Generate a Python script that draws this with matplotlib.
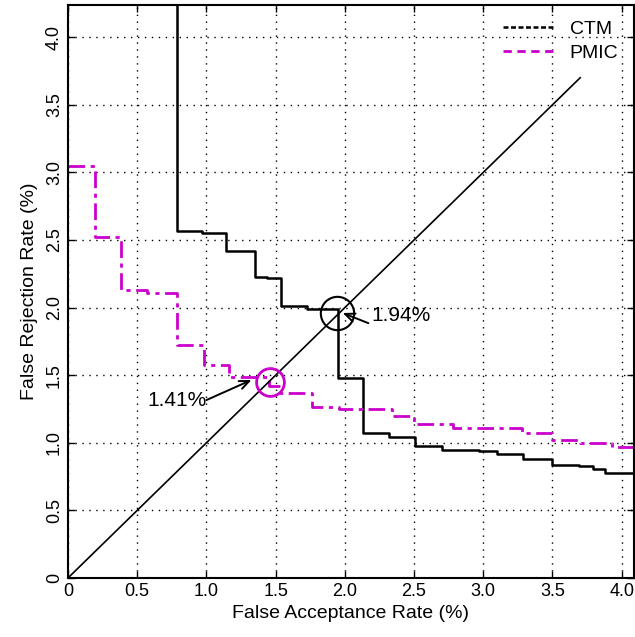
import numpy as np
import matplotlib
matplotlib.use("Agg")
import matplotlib.pyplot as plt
from matplotlib.lines import Line2D

plt.rcParams['font.family'] = ['Liberation Sans', 'DejaVu Sans']

# step curves (x = FAR %, y = FRR %)
ctm_x = [0.785, 0.785, 0.97, 1.14, 1.35, 1.44, 1.54, 1.73, 1.95, 1.95, 2.13, 2.32, 2.51, 2.70, 2.97, 3.10, 3.29, 3.50, 3.69, 3.79, 3.88, 4.10]
ctm_y = [4.30, 2.565, 2.55, 2.42, 2.23, 2.22, 2.01, 1.99, 1.97, 1.48, 1.075, 1.045, 0.98, 0.95, 0.94, 0.917, 0.878, 0.836, 0.826, 0.81, 0.78, 0.78]

pmic_x = [0.0, 0.195, 0.38, 0.57, 0.785, 0.98, 1.16, 1.45, 1.53, 1.76, 1.96, 2.34, 2.50, 2.78, 3.28, 3.50, 3.70, 3.93, 4.10]
pmic_y = [3.05, 2.52, 2.13, 2.11, 1.72, 1.575, 1.49, 1.42, 1.366, 1.267, 1.25, 1.198, 1.137, 1.107, 1.07, 1.02, 0.996, 0.97, 0.97]

diag_end = 3.7
eer_ctm = (1.94, 1.96)
eer_pmic = (1.46, 1.45)
ticks = [0, 0.5, 1.0, 1.5, 2.0, 2.5, 3.0, 3.5, 4.0]
tick_labels = ['0', '0.5', '1.0', '1.5', '2.0', '2.5', '3.0', '3.5', '4.0']

magenta = '#cc00cc'

fig = plt.figure(figsize=(6.35, 6.37), dpi=100)
ax = fig.add_axes([0.107, 0.0926, 0.891, 0.8995])

ax.step(ctm_x, ctm_y, where='post', color='black', lw=1.8)
ax.step(pmic_x, pmic_y, where='post', color=magenta, lw=2.0, linestyle=(0, (6, 2, 1.5, 2)))
ax.plot([0, diag_end], [0, diag_end], color='black', lw=1.2)

ax.plot(*eer_ctm, marker='o', ms=24, mfc='none', mec='black', mew=1.5)
ax.plot(*eer_pmic, marker='o', ms=20, mfc='none', mec=magenta, mew=2)

arrow = dict(arrowstyle='->, head_length=0.7, head_width=0.3', color='black', lw=1.4,
             shrinkA=0, shrinkB=0)
ax.annotate('', xy=(1.985, 1.96), xytext=(2.17, 1.885), arrowprops=arrow)
ax.annotate('', xy=(1.326, 1.465), xytext=(1.0, 1.316), arrowprops=arrow)
ax.text(2.19, 1.945, '1.94%', fontsize=15, va='center', ha='left')
ax.text(1.0, 1.315, '1.41%', fontsize=15, va='center', ha='right')

ax.set_xlim(0, 4.087)
ax.set_ylim(0, 4.238)
ax.set_xticks(ticks)
ax.set_xticklabels(tick_labels)
ax.set_yticks(ticks)
ax.set_yticklabels(tick_labels, rotation=90, va='center')
ax.tick_params(direction='in', top=True, right=True, labelsize=13, length=5, width=1)
ax.grid(True, linestyle=(0, (1, 4)), color='black', lw=1.0)
for s in ax.spines.values():
    s.set_linewidth(1.5)

ax.set_xlabel('False Acceptance Rate (%)', fontsize=14, labelpad=4)
ax.set_ylabel('False Rejection Rate (%)', fontsize=14, labelpad=6)

handles = [Line2D([], [], color='black', lw=1.8, linestyle=(0, (2, 1))),
           Line2D([], [], color=magenta, lw=2.0, linestyle=(0, (3, 2)))]
ax.legend(handles, ['CTM', 'PMIC'], loc='upper right', frameon=False, fontsize=14,
          handlelength=2.6, borderaxespad=0.4, labelspacing=0.3)

fig.savefig('out.png', dpi=100)
